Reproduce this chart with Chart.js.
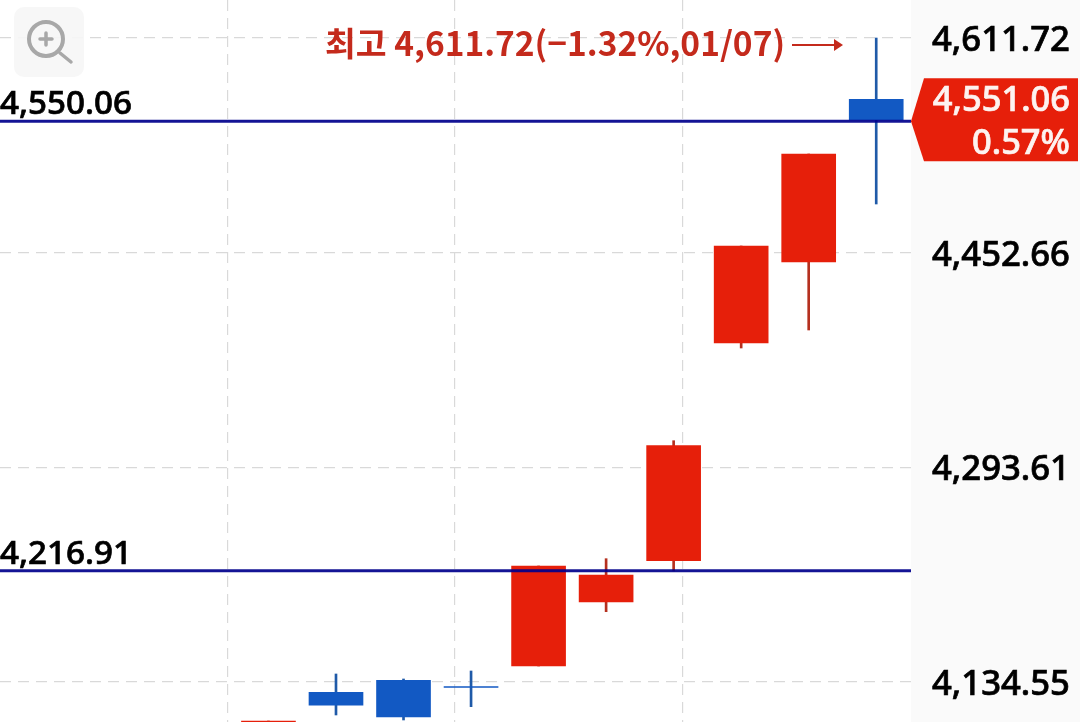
<!DOCTYPE html>
<html>
	<head>
		<meta http-equiv="content-type" content="text/html; charset=UTF-8">
		<script src="https://cdn.jsdelivr.net/npm/chart.js@4/dist/chart.umd.min.js"></script>
		<style>
			html, body { margin: 0; padding: 0; background: #fff; }
			canvas { display: block; }
		</style>
	</head>
	<body>
		<canvas id="candle-chart" width="1080" height="722"></canvas>
		<script type="text/javascript">
			// daily candles, oldest first
			var dates  = ['12/22', '12/23', '12/24', '12/26', '12/29', '12/30', '01/02', '01/05', '01/06', '01/07'];
			var opens  = [4090.00, 4126.92, 4135.81, 4131.20, 4146.40, 4193.83, 4224.43, 4385.72, 4445.75, 4566.31];
			var closes = [4105.65, 4117.29, 4108.62, 4130.50, 4220.50, 4213.83, 4309.64, 4457.60, 4525.77, 4551.06];
			var highs  = [4105.65, 4140.48, 4136.77, 4142.70, 4220.50, 4225.91, 4313.34, 4457.60, 4525.77, 4611.72];
			var lows   = [4085.00, 4110.10, 4106.39, 4116.25, 4146.40, 4186.64, 4216.80, 4382.02, 4395.36, 4488.72];

			var priceTicks = [4611.72, 4452.66, 4293.61, 4134.55];
			var levels = [4550.06, 4216.91];
			var lastPrice = 4551.06;
			var lastChange = '0.57%';
			var highLabel = '최고 4,611.72(\u22121.32%,01/07)';

			// axis window and vertical grid, in candle index units
			var xMin = -3.9756, xMax = 9.515;
			var xGrid = [-0.603, 2.762, 6.132];
			var yMin = 4104.9, yMax = 4639.88;

			var RED = '#e61f0a', BLUE = '#1259c3', NAVY = 'rgba(0,0,140,0.92)';
			var FONT = '"Noto Sans", sans-serif';

			function money(v) {
				return v.toLocaleString('en-US', {minimumFractionDigits: 2, maximumFractionDigits: 2});
			}

			// fill plus a hairline stroke, the reference text is a bit heavier than weight 500
			function heavyText(c, text, x, y, color) {
				c.fillStyle = color;
				c.strokeStyle = color;
				c.lineWidth = 0.7;
				c.fillText(text, x, y);
				c.strokeText(text, x, y);
			}

			var bodyData = [], wickData = [], bodyColors = [], wickColors = [];
			dates.forEach(function(d, i) {
				bodyData.push({x: i, y: [opens[i], closes[i]]});
				wickData.push({x: i, y: [lows[i], highs[i]]});
				bodyColors.push(closes[i] >= opens[i] ? RED : BLUE);
				wickColors.push(closes[i] >= opens[i] ? '#b5301f' : '#1f5aa8');
			});

			var levelSets = levels.map(function(v) {
				return {
					type: 'line',
					data: [{x: xMin, y: v}, {x: xMax, y: v}],
					borderColor: NAVY,
					borderWidth: 3,
					pointRadius: 0,
					order: 0
				};
			});

			// everything that isn't a scale or a dataset: panel, tag, labels, zoom button
			var decorations = {
				id: 'decorations',
				beforeDraw: function(chart) {
					var c = chart.ctx, a = chart.chartArea;
					c.save();
					c.fillStyle = '#fafafa';
					c.fillRect(a.right, 0, chart.width - a.right, chart.height);
					c.restore();
				},
				afterDraw: function(chart) {
					var c = chart.ctx, a = chart.chartArea, y = chart.scales.y;
					c.save();

					// level labels
					c.font = '500 33.2px ' + FONT;
					c.textAlign = 'left';
					c.textBaseline = 'alphabetic';
					levels.forEach(function(v) {
						heavyText(c, money(v), 0, y.getPixelForValue(v) - 7, '#000');
					});

					// last price tag
					var tagY = y.getPixelForValue(levels[0]);
					c.fillStyle = RED;
					c.beginPath();
					c.moveTo(a.right, tagY);
					c.lineTo(a.right + 13, tagY - 43);
					c.lineTo(1078, tagY - 43);
					c.lineTo(1078, tagY + 40);
					c.lineTo(a.right + 13, tagY + 40);
					c.closePath();
					c.fill();
					c.textAlign = 'right';
					c.font = '500 34.5px ' + FONT;
					heavyText(c, money(lastPrice), 1070, tagY - 10, '#fdf3f0');
					heavyText(c, lastChange, 1070, tagY + 33, '#fdf3f0');

					// high annotation and arrow
					c.fillStyle = '#c42a1c';
					c.textAlign = 'left';
					c.font = '700 33.5px "Noto Sans CJK KR", sans-serif';
					c.fillText(highLabel, 325, 56);
					c.strokeStyle = '#c42a1c';
					c.lineWidth = 2;
					c.beginPath();
					c.moveTo(792, 45);
					c.lineTo(836, 45);
					c.stroke();
					c.beginPath();
					c.moveTo(843, 45);
					c.lineTo(834, 39);
					c.lineTo(834, 51);
					c.closePath();
					c.fill();

					// zoom button
					c.fillStyle = 'rgba(246,246,246,0.9)';
					c.beginPath();
					c.roundRect(14, 7, 70, 70, 10);
					c.fill();
					c.strokeStyle = '#a8a8a8';
					c.lineWidth = 4;
					c.beginPath();
					c.arc(46, 39, 17, 0, Math.PI * 2);
					c.stroke();
					c.lineCap = 'round';
					c.lineWidth = 3.5;
					c.beginPath();
					c.moveTo(40, 39); c.lineTo(52, 39);
					c.moveTo(46, 33); c.lineTo(46, 45);
					c.moveTo(60, 53); c.lineTo(71, 62);
					c.stroke();
					c.restore();
				}
			};

			new Chart(document.getElementById('candle-chart'), {
				type: 'bar',
				data: {
					datasets: levelSets.concat([
						{data: bodyData, backgroundColor: bodyColors, barThickness: 54, grouped: false, order: 1},
						{data: wickData, backgroundColor: wickColors, barThickness: 2, grouped: false, order: 2}
					])
				},
				options: {
					responsive: false,
					animation: false,
					layout: {padding: 0},
					plugins: {legend: {display: false}, tooltip: {enabled: false}},
					scales: {
						x: {
							type: 'linear',
							min: xMin,
							max: xMax,
							offset: false,
							border: {display: false, dash: [11, 7]},
							grid: {offset: false, color: '#d9d9d9', lineWidth: 1.2, drawTicks: false},
							ticks: {display: false},
							afterBuildTicks: function(s) {
								s.ticks = xGrid.map(function(v) { return {value: v}; });
							},
							afterFit: function(s) { s.height = 0; s.paddingLeft = 0; s.paddingRight = 0; }
						},
						y: {
							position: 'right',
							min: yMin,
							max: yMax,
							border: {display: false, dash: [11, 7]},
							grid: {color: '#d9d9d9', lineWidth: 1.2, drawTicks: false},
							ticks: {
								color: '#000',
								padding: 21,
								labelOffset: 3,
								autoSkip: false,
								textStrokeColor: '#000',
								textStrokeWidth: 0.7,
								font: {family: 'Noto Sans', size: 34.7, weight: '500'},
								callback: function(v) { return money(v); }
							},
							afterBuildTicks: function(s) {
								s.ticks = priceTicks.map(function(v) { return {value: v}; });
							},
							afterFit: function(s) {
								s.width = 169;
								s.paddingTop = 0;
								s.paddingBottom = 0;
							}
						}
					}
				},
				plugins: [decorations]
			});
		</script>
	</body>
</html>
